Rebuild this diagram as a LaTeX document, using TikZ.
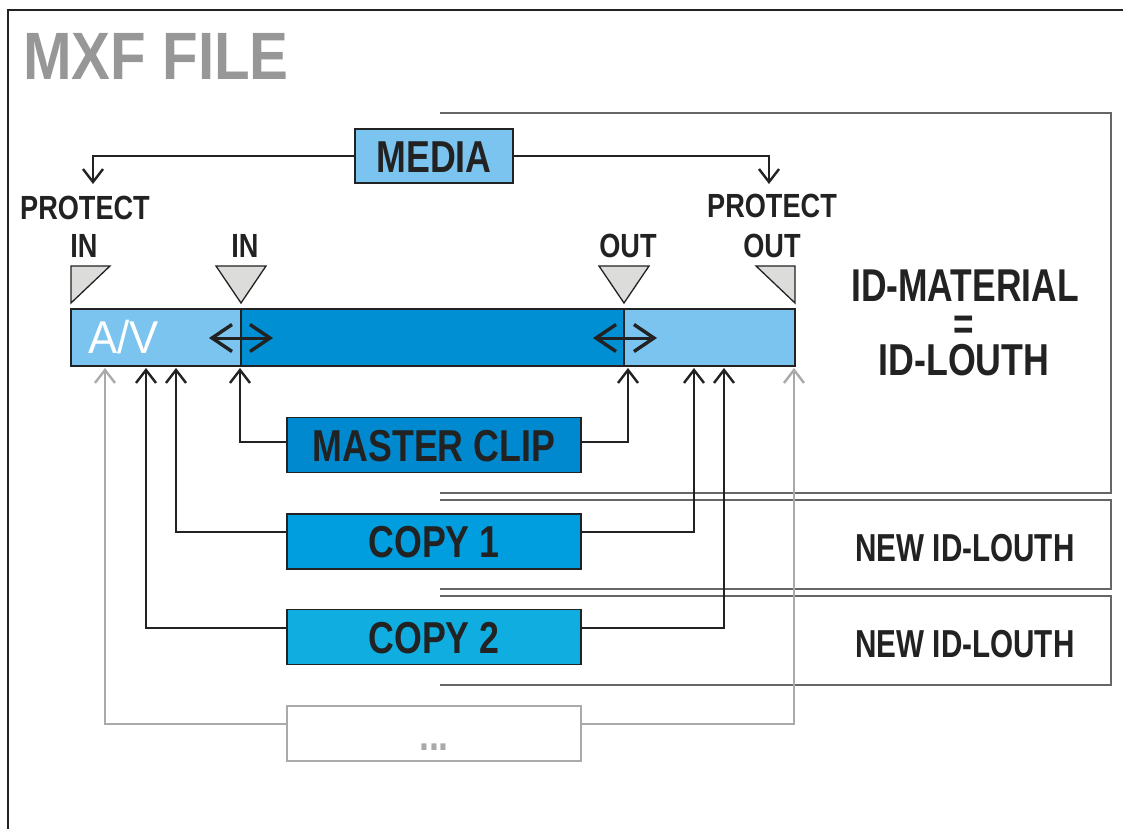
\documentclass[tikz,border=0pt]{standalone}
\usepackage{fontspec}
\setmainfont{Liberation Sans}
\usetikzlibrary{arrows.meta,calc}
\definecolor{ink}{HTML}{222222}
\definecolor{lightblue}{HTML}{7AC4EF}
\definecolor{bardark}{HTML}{008FD3}
\definecolor{mclip}{HTML}{0089CF}
\definecolor{copyone}{HTML}{009EDF}
\definecolor{copytwo}{HTML}{0FADE0}
\definecolor{trigray}{HTML}{DCDCDA}
\definecolor{conngray}{HTML}{AAAAAA}
\definecolor{titlegray}{HTML}{979797}
\definecolor{panelgray}{HTML}{666666}
\newcommand\condfont[2]{\fontsize{#1}{#1}\bfseries\addfontfeatures{FakeStretch=#2}}
\tikzset{
  box/.style={draw=ink, line width=1.6pt, minimum width=294pt, minimum height=55pt,
    inner sep=0pt, text height=32pt, text depth=0pt, text=ink, font=\condfont{44.7}{0.8}},
  lbl/.style={inner sep=0pt, anchor=base, text=ink, font=\condfont{33.5}{0.81}},
  tri/.style={fill=trigray, draw=ink, line width=1.3pt, line join=miter},
  barseg/.style={draw=ink, line width=1.6pt},
  conn/.style={draw=ink, line width=2pt, -{Straight Barb[length=13pt,width=20pt,line width=2.4pt]}},
  gconn/.style={conn, draw=conngray},
  dbl/.style={draw=ink, line width=3pt, {Straight Barb[length=20pt,width=27pt,line width=3.4pt]}-{Straight Barb[length=20pt,width=27pt,line width=3.4pt]}},
  panel/.style={draw=panelgray, line width=1.4pt},
}
\begin{document}
\begin{tikzpicture}[x=1pt,y=-1pt]
\useasboundingbox (0,0) rectangle (1123,829);
\fill[white] (0,0) rectangle (1123,829);
% outer frame
\draw[ink, line width=1.5pt] (8,829) -- (8,10) -- (1123,10);
% title
\node[anchor=base west, inner sep=0pt, text=titlegray, font=\condfont{67}{0.87}] (title) at (23,80) {MXF FILE};
% right panels
\draw[panel] (440,113) -- (1111,113) -- (1111,493) -- (440,493);
\draw[panel] (440,500) -- (1111,500) -- (1111,589) -- (440,589);
\draw[panel] (440,596) -- (1111,596) -- (1111,685) -- (440,685);
% panel texts
\node[lbl, font=\condfont{46}{0.77}] (idm) at (965,301) {ID-MATERIAL};
\node[lbl, font=\condfont{45}{0.78}] (eq) at (964,339) {=};
\node[lbl, font=\condfont{44.7}{0.8}] (idl) at (964,375) {ID-LOUTH};
\node[lbl, font=\condfont{39}{0.76}] (new1) at (965,561) {NEW ID-LOUTH};
\node[lbl, font=\condfont{39}{0.76}] (new2) at (965,657) {NEW ID-LOUTH};
% bar
\draw[barseg, fill=lightblue] (71,309) rectangle (241,366);
\draw[barseg, fill=bardark] (241,309) rectangle (624,366);
\draw[barseg, fill=lightblue] (624,309) rectangle (795,366);
\node[anchor=base west, inner sep=0pt, text=white, font={\fontsize{46}{46}\selectfont\addfontfeatures{FakeStretch=0.95}}] (av) at (88,353) {A/V};
\draw[dbl] (209,338) -- (273,338);
\draw[dbl] (593,338) -- (657,338);
% triangles
\draw[tri] (71,266) -- (110,266) -- (71,303) -- cycle;
\draw[tri] (216,266) -- (266,266) -- (241,303) -- cycle;
\draw[tri] (599,266) -- (649,266) -- (624,303) -- cycle;
\draw[tri] (756,266) -- (795,266) -- (795,303) -- cycle;
% labels
\node[lbl] (pinA) at (85,219) {PROTECT};
\node[lbl] (pinB) at (84,257) {IN};
\node[lbl] (inl) at (245,257) {IN};
\node[lbl] (outl) at (628,257) {OUT};
\node[lbl] (poutA) at (772,217) {PROTECT};
\node[lbl] (poutB) at (772,257) {OUT};
% boxes
\node[box, fill=lightblue, minimum width=158pt, minimum height=54pt] (media) at (434,156) {MEDIA};
\node[box, fill=mclip] (master) at (434,445) {MASTER CLIP};
\node[box, fill=copyone] (copy1) at (434,541.5) {COPY 1};
\node[box, fill=copytwo] (copy2) at (434,637) {COPY 2};
\node[box, draw=conngray, fill=white, text=conngray, text height=33pt] (dots) at (434,733.5) {...};
% coordinates
\coordinate (mpl) at (93,184);
\coordinate (mpr) at (769,184);
\coordinate (p105) at (105,368);
\coordinate (p146) at (146,368);
\coordinate (p176) at (176,368);
\coordinate (p240) at (240,368);
\coordinate (p628) at (628,368);
\coordinate (p694) at (694,368);
\coordinate (p724) at (724,368);
\coordinate (p794) at (794,368);
% connectors
\draw[conn] (media.west) -| (mpl);
\draw[conn] (media.east) -| (mpr);
\draw[conn] (master.west |- 0,442) -| (p240);
\draw[conn] (master.east |- 0,442) -| (p628);
\draw[conn] (copy1.west |- 0,532) -| (p176);
\draw[conn] (copy1.east |- 0,532) -| (p694);
\draw[conn] (copy2.west |- 0,628) -| (p146);
\draw[conn] (copy2.east |- 0,628) -| (p724);
\draw[gconn] (dots.west |- 0,724) -| (p105);
\draw[gconn] (dots.east |- 0,724) -| (p794);
\end{tikzpicture}
\end{document}
